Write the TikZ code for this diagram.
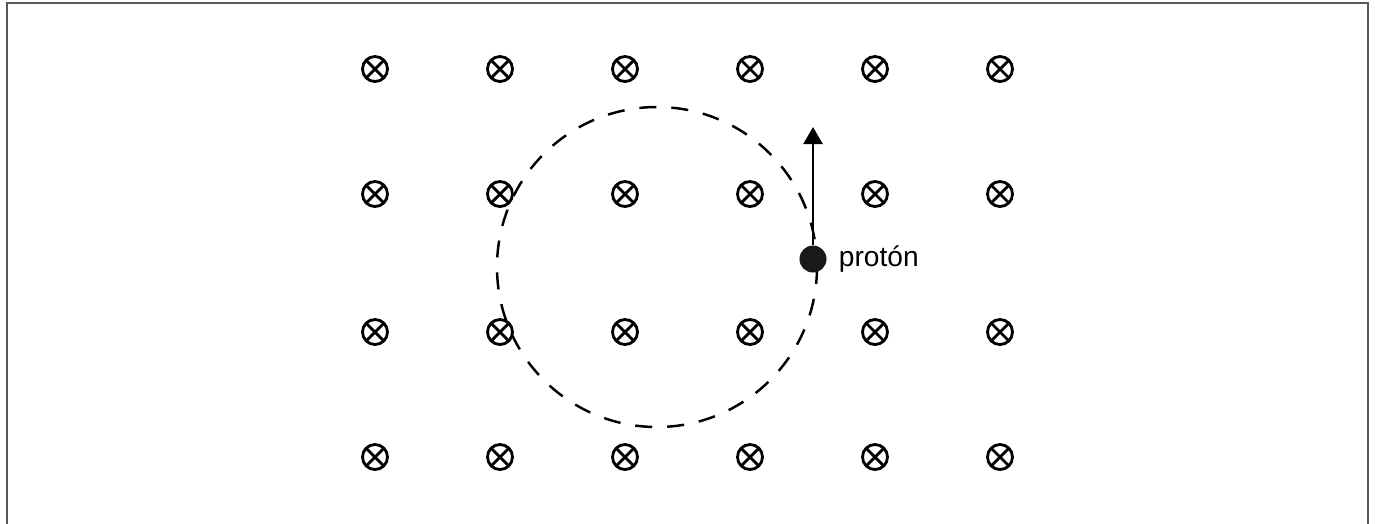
\documentclass[tikz,border=0pt]{standalone}
\usepackage{fontspec}
\setmainfont{Liberation Sans}
\usetikzlibrary{arrows.meta,positioning}

\tikzset{
  bfield/.style={circle, draw, line width=0.8pt, minimum size=0.25cm, inner sep=0pt,
    path picture={
      \draw[line width=0.8pt] (path picture bounding box.north west) -- (path picture bounding box.south east);
      \draw[line width=0.8pt] (path picture bounding box.north east) -- (path picture bounding box.south west);
    }},
  particle/.style={circle, fill=black!90, minimum size=0.27cm, inner sep=0pt},
  orbit/.style={line width=0.7pt, dash pattern=on 0.17cm off 0.15cm},
  velocity/.style={line width=0.7pt, -{Triangle[width=0.19cm, length=0.17cm]}},
  frame/.style={draw=black!65, line width=0.6pt}
}

\begin{document}
\begin{tikzpicture}[x=0.01cm, y=-0.01cm, font=\fontsize{8}{9.5}\selectfont]
  % Settings
  \useasboundingbox (0,0) rectangle (1375,523);

  % Frame (open at the bottom)
  \draw[frame] (7,530) -- (7,3) -- (1368,3) -- (1368,530);

  % Field into the page
  \foreach \y [count=\j] in {69, 194, 332, 457} {
    \foreach \x [count=\i] in {375, 500, 625, 750, 875, 1000} {
      \node[bfield] (b\j\i) at (\x,\y) {};
    }
  }

  % Path of the proton
  \coordinate (centre) at (657,267);
  \draw[orbit] (centre) circle (160);

  % Proton and its velocity
  \node[particle] (proton) at (813,259) {};
  \coordinate (tip) at (813,127);
  \draw[velocity] (proton.north) -- (tip);
  \node[right=0.11cm of proton, inner sep=0pt] (label) {protón};

\end{tikzpicture}
\end{document}
